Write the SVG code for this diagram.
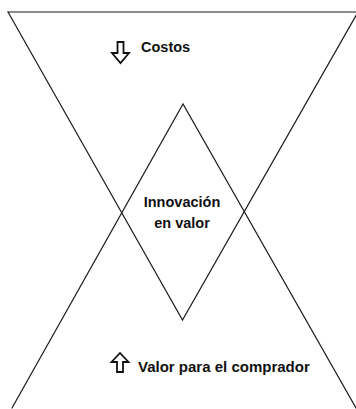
<svg xmlns="http://www.w3.org/2000/svg" width="356" height="409" viewBox="0 0 356 409">
<style>
.ln{fill:none;stroke:#1a1a1a;stroke-width:1.2;stroke-linecap:round}
.ar{fill:#fff;stroke:#111;stroke-width:1.8;stroke-linejoin:miter}
.t{font-family:"Liberation Sans",Arial,Helvetica,sans-serif;font-weight:bold;font-size:14.5px;fill:#111}
</style>
<rect width="356" height="409" fill="#fff"/>
<g id="connectors">
<path class="ln" d="M8,12 H357"/>
<path class="ln" d="M8,12 L182.5,320 L358,12"/>
<path class="ln" d="M12,408 L183,104 L356,408"/>
</g>
<g id="costos">
<path class="ar" d="M117.5,42 H123.5 V53 H129 L120.5,63 L112,53 H117.5 Z"/>
<text class="t" x="141" y="52">Costos</text>
</g>
<g id="innovacion">
<text class="t" x="182" y="207" text-anchor="middle">Innovación</text>
<text class="t" x="182" y="228" text-anchor="middle">en valor</text>
</g>
<g id="valor">
<path class="ar" d="M117,372 H123 V362 H128.5 L120,353 L111.5,362 H117 Z"/>
<text class="t" x="138" y="372" style="font-size:15px">Valor para el comprador</text>
</g>
</svg>
